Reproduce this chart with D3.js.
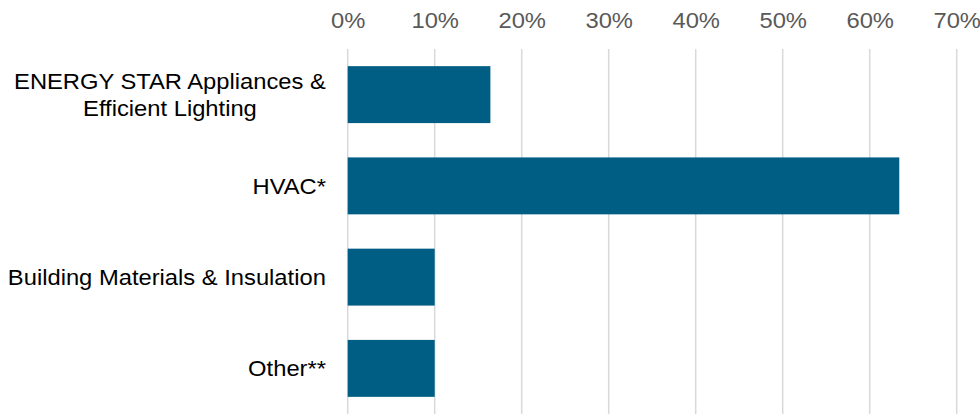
<!DOCTYPE html>
<html>
<head>
<meta charset="utf-8">
<script src="https://cdn.jsdelivr.net/npm/d3@7"></script>
<style>
  body { margin: 0; background: #fff; }
  text { font-family: "Liberation Sans", Arial, sans-serif; }
</style>
</head>
<body>
<div id="chart"></div>
<script>
// data
const categories = ["ENERGY STAR Appliances & Efficient Lighting", "HVAC*", "Building Materials & Insulation", "Other**"];
const labelLines = [["ENERGY STAR Appliances &", "Efficient Lighting"], ["HVAC*"], ["Building Materials & Insulation"], ["Other**"]];
const shares = [0.164, 0.634, 0.100, 0.100];
const tickValues = [0, 0.1, 0.2, 0.3, 0.4, 0.5, 0.6, 0.7];

const W = 980, H = 416;
const stretch = 1.08; // reference text is a bit wider than Arial

const svg = d3.select("#chart").append("svg")
  .attr("width", W)
  .attr("height", H);

const x = d3.scaleLinear()
  .domain([0, 0.7])
  .range([347.7, 956.7]);

const y = d3.scaleBand()
  .domain(categories)
  .range([49, 414])
  .paddingInner(0.376)
  .paddingOuter(0.188);

// gridlines
svg.append("g")
  .selectAll("line")
  .data(tickValues)
  .enter()
  .append("line")
    .attr("x1", d => x(d))
    .attr("x2", d => x(d))
    .attr("y1", 49)
    .attr("y2", 414)
    .attr("stroke", "#d9d9d9")
    .attr("stroke-width", 1.5);

// top axis labels
const axis = svg.append("g")
  .attr("transform", "translate(0,28)")
  .call(d3.axisTop(x).tickValues(tickValues).tickFormat(d3.format(".0%")).tickSize(0).tickPadding(0));
axis.select(".domain").remove();
axis.selectAll("text")
  .attr("y", 0)
  .attr("dy", 0)
  .attr("fill", "#595959")
  .style("font-size", "22px")
  .attr("transform", "scale(" + stretch + ",1)");

// bars
svg.append("g")
  .selectAll("rect")
  .data(categories)
  .enter()
  .append("rect")
    .attr("x", x(0))
    .attr("y", d => y(d))
    .attr("width", (d, i) => x(shares[i]) - x(0))
    .attr("height", y.bandwidth())
    .attr("fill", "#005e85");

// category labels, block right-aligned, lines centred on each other
const labelRight = 326;
const lineGap = 26.7;
const labels = svg.append("g")
  .selectAll("g")
  .data(categories)
  .enter()
  .append("g");

labels.each(function(d, i) {
  const g = d3.select(this);
  const lines = labelLines[i];
  const cy = y(d) + y.bandwidth() / 2;
  const firstBase = cy + 8 - (lines.length - 1) * lineGap / 2;
  const texts = g.selectAll("text")
    .data(lines)
    .enter()
    .append("text")
      .attr("text-anchor", "middle")
      .attr("y", (t, j) => firstBase + j * lineGap)
      .attr("fill", "#000")
      .style("font-size", "22px")
      .text(t => t);
  let maxW = 0;
  texts.each(function() { maxW = Math.max(maxW, this.getComputedTextLength()); });
  const cx = labelRight - maxW * stretch / 2;
  g.attr("transform", "translate(" + cx + ",0) scale(" + stretch + ",1)");
});
</script>
</body>
</html>
